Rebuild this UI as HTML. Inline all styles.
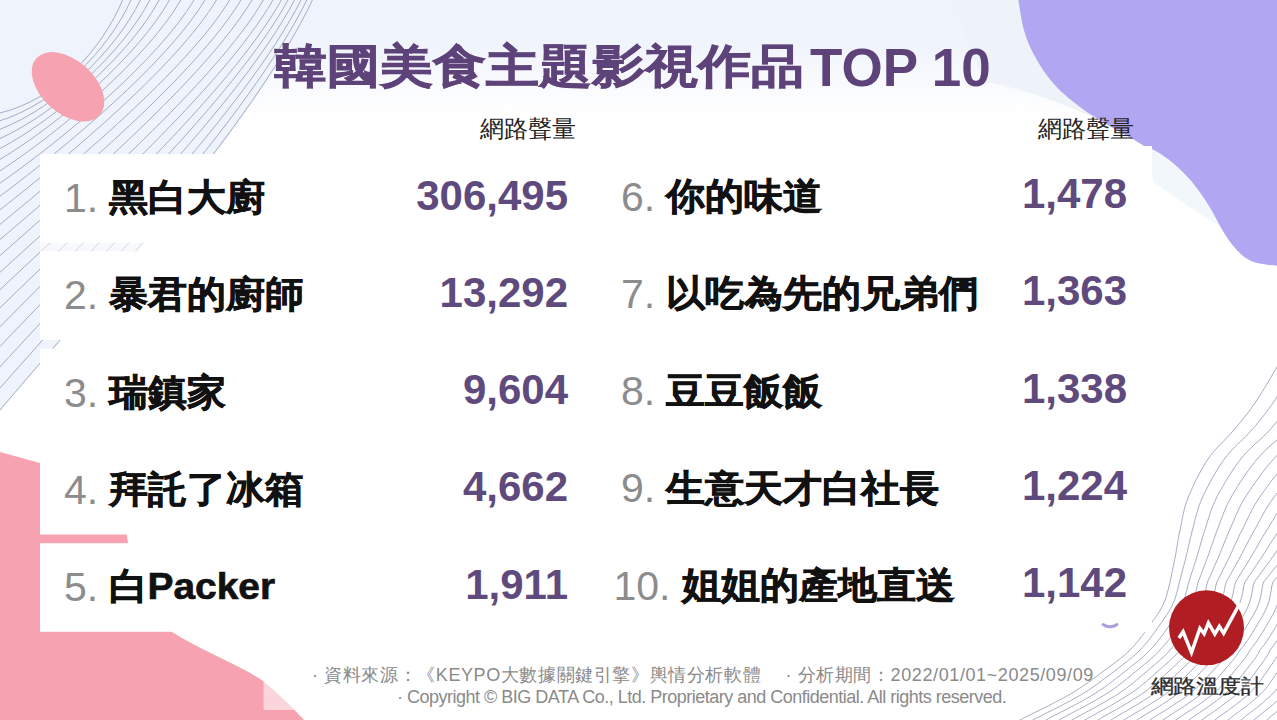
<!DOCTYPE html>
<html lang="zh-Hant-TW"><head><meta charset="utf-8">
<style>
html,body{margin:0;padding:0;}
body{width:1277px;height:720px;overflow:hidden;position:relative;background:#eef2fa;font-family:"Liberation Sans",sans-serif;}
.abs{position:absolute;}
.num,.name,.val{position:absolute;line-height:48px;white-space:nowrap;}
.num{color:#8c8c8c;font-size:41px;}
.name{color:#111;font-weight:bold;font-size:38.9px;transform:scaleY(0.95);transform-origin:0 40px;-webkit-text-stroke:0.7px #111;}
.name span{-webkit-text-stroke:0;}
.val{color:#5f4a7e;font-weight:bold;font-size:42px;}
.hdr{position:absolute;font-size:24px;line-height:30px;color:#222;white-space:nowrap;}
.title{position:absolute;left:274px;top:38px;font-size:53px;line-height:66px;font-weight:bold;color:#5e437a;white-space:nowrap;transform:scaleY(0.87);transform-origin:0 0;-webkit-text-stroke:0.9px #5e437a;}
.tl{position:absolute;left:810px;top:34.5px;font-size:53px;line-height:66px;font-weight:bold;color:#5e437a;white-space:nowrap;}
.title span{-webkit-text-stroke:0;}
.foot{position:absolute;font-size:18px;line-height:22px;color:#8a8a8a;white-space:nowrap;}
</style></head><body>
<svg class="abs" style="left:0;top:0" width="1277" height="720" viewBox="0 0 1277 720">
  <defs><linearGradient id="gtop" x1="0" y1="0" x2="0" y2="1"><stop offset="0" stop-color="#eff3fb"/><stop offset="0.4" stop-color="#f0f4fb"/><stop offset="1" stop-color="#ffffff"/></linearGradient></defs>
  <path d="M0 0H1277V720H0Z" fill="#ffffff"/>
  <rect x="0" y="0" width="1277" height="115" fill="url(#gtop)"/>
  <path d="M0 0 L313 0 C256 125 95 300 0 411 Z" fill="#eff3fb"/>
  <path d="M955 0 H1277 V241 C1230 215 1190 170 1152 146 C1100 118 1040 92 986 82 C970 55 960 25 955 0 Z" fill="#eef3f9"/>
  <path d="M0 113.0C56.4 99.4 101.8 49.7 122.6 0 M0 120.8C56.4 102.9 108.4 50.0 131.0 0 M0 129.3C56.9 107.1 115.8 50.7 140.4 0 M0 138.6C57.5 112.0 123.3 51.7 149.8 0 M0 148.6C58.2 117.6 130.7 53.1 159.2 0 M0 159.4C59.4 123.9 138.9 54.9 169.5 0 M0 170.9C61.2 130.9 148.0 57.0 180.8 0 M0 183.2C63.7 138.6 158.6 59.5 194.0 0 M0 196.2C65.8 147.0 167.5 62.4 205.0 0 M0 209.9C68.1 156.1 176.7 65.7 216.5 0 M0 224.4C71.2 165.9 187.4 69.3 229.7 0 M0 239.6C73.9 176.4 196.6 73.3 241.0 0 M0 255.6C76.6 187.5 205.5 77.6 252.0 0 M0 272.3C79.7 199.4 214.8 82.3 263.5 0 M0 289.7C82.3 211.8 222.5 87.2 273.0 0 M0 307.9C84.6 225.0 229.4 92.5 281.4 0 M0 326.8C86.5 238.7 234.7 98.1 288.0 0 M0 346.5C88.4 253.0 240.0 104.0 294.5 0 M0 366.9C90.3 267.9 245.3 110.1 301.0 0 M0 388.1C92.0 283.3 250.0 116.4 306.8 0 M0 410.0C93.7 299.3 254.6 123.0 312.4 0" fill="none" stroke="#a6abc6" stroke-width="1"/>
  <ellipse cx="68" cy="86.8" rx="42.6" ry="26.6" transform="rotate(42 68 86.8)" fill="#f6a2b1"/>
  <path d="M1017.0 -10.0 1017.1 -9.2 1017.2 -8.2 1017.3 -6.9 1017.6 -5.3 1017.9 -3.0 1018.4 0.0 1019.0 4.0 1019.8 8.9 1020.7 14.4 1021.7 20.2 1022.8 25.8 1024.2 31.0 1025.7 35.8 1027.4 40.4 1029.2 44.9 1031.2 49.3 1033.4 53.8 1035.9 58.3 1038.6 62.9 1041.5 67.5 1044.6 72.2 1048.0 76.8 1051.5 81.3 1055.3 85.6 1059.3 89.8 1063.7 93.8 1068.2 97.7 1072.9 101.6 1077.7 105.3 1082.6 108.9 1087.6 112.4 1092.8 115.8 1098.2 119.1 1103.5 122.3 1108.7 125.4 1113.7 128.4 1118.4 131.2 1123.0 133.7 1127.5 136.2 1131.9 138.6 1136.4 141.2 1140.9 143.9 1145.6 146.9 1150.5 150.1 1155.4 153.4 1160.2 156.7 1164.8 160.0 1169.0 163.0 1172.9 165.8 1176.4 168.3 1179.8 170.8 1183.0 173.3 1186.0 176.0 1189.0 179.0 1191.9 182.3 1194.6 185.9 1197.2 189.6 1199.6 193.4 1202.1 197.3 1204.5 201.0 1206.8 204.7 1209.1 208.3 1211.3 212.0 1213.5 215.6 1215.7 219.3 1218.0 223.0 1220.4 226.8 1222.8 230.8 1225.2 234.7 1227.7 238.6 1230.3 242.2 1233.0 245.6 1235.7 248.7 1238.5 251.7 1241.3 254.4 1244.3 256.9 1247.5 259.1 1251.0 261.0 1255.0 262.5 1259.6 263.5 1264.3 264.3 1269.0 264.9 1273.3 265.3 1277.0 265.7 1280.1 266.0 1282.8 266.1 1285.1 266.1 1287.1 266.1 1288.7 266.0 1290.0 266.0 L1290 -10 Z" fill="#b0a6f1"/>
  <path d="M1150 148 C1175 160 1200 185 1220 226 C1200 215 1180 200 1153 182 Z" fill="#f1f7fa"/>
  <path d="M0 452 L40 463 C90 478 122 505 127 536 L128 543 L172 632 C200 650 240 665 263 681 C280 695 295 710 304 720 L0 720Z" fill="#f6a2b1"/>
  <rect x="263.5" y="681" width="50" height="29" fill="#fff" fill-opacity="0.55"/>
  <path d="M1290.0 345.0 1289.3 346.2 1288.4 347.8 1287.3 349.5 1286.2 351.5 1284.9 353.8 1283.5 356.1 1282.0 358.7 1280.4 361.4 1278.7 364.1 1277.0 367.0 1275.2 370.1 1273.2 373.4 1271.1 377.0 1268.8 380.8 1266.6 384.6 1264.2 388.5 1261.9 392.3 1259.5 396.1 1257.2 399.7 1255.0 403.0 1252.8 406.1 1250.6 409.1 1248.5 412.0 1246.3 414.8 1244.2 417.5 1242.0 420.2 1239.8 422.9 1237.6 425.5 1235.3 428.2 1233.0 431.0 1230.6 433.8 1228.1 436.4 1225.6 439.1 1223.0 441.7 1220.4 444.3 1217.8 447.0 1215.2 449.8 1212.7 452.7 1210.3 455.8 1208.0 459.0 1205.7 462.5 1203.5 466.2 1201.3 470.1 1199.1 474.1 1196.9 478.2 1194.9 482.4 1193.0 486.5 1191.2 490.5 1189.5 494.3 1188.0 498.0 1186.7 501.5 1185.6 504.8 1184.7 508.1 1183.8 511.3 1183.1 514.4 1182.5 517.5 1181.9 520.5 1181.3 523.6 1180.7 526.8 1180.0 530.0 1179.3 533.2 1178.7 536.5 1178.1 539.7 1177.6 542.9 1177.1 546.2 1176.5 549.5 1176.0 552.8 1175.4 556.1 1174.7 559.5 1174.0 563.0 1173.2 566.6 1172.5 570.3 1171.7 574.2 1170.9 578.1 1170.1 582.0 1169.2 585.9 1168.2 589.7 1167.2 593.3 1166.2 596.8 1165.0 600.0 1163.8 603.0 1162.5 605.8 1161.1 608.4 1159.7 610.9 1158.2 613.2 1156.6 615.6 1155.1 617.9 1153.4 620.2 1151.7 622.6 1150.0 625.0 1148.2 627.5 1146.4 630.1 1144.5 632.7 1142.6 635.2 1140.6 637.8 1138.6 640.4 1136.5 642.9 1134.4 645.3 1132.2 647.7 1130.0 650.0 1127.7 652.2 1125.4 654.3 1123.0 656.4 1120.5 658.4 1118.0 660.3 1115.5 662.2 1112.9 664.2 1110.3 666.1 1107.6 668.0 1105.0 670.0 1102.3 672.0 1099.6 674.1 1096.8 676.2 1094.0 678.2 1091.1 680.3 1088.3 682.4 1085.4 684.4 1082.6 686.3 1079.8 688.2 1077.0 690.0 1074.3 691.7 1071.6 693.3 1068.9 694.9 1066.3 696.4 1063.6 697.8 1061.0 699.2 1058.3 700.7 1055.6 702.1 1052.8 703.5 1050.0 705.0 1047.1 706.5 1044.1 708.0 1041.1 709.5 1038.0 711.0 1034.9 712.5 1031.8 714.0 1028.7 715.5 1025.7 717.0 1022.8 718.5 1020.0 720.0 1017.2 721.6 1014.3 723.2 1011.3 725.0 1008.4 726.7 1005.6 728.4 1003.0 730.1 1000.5 731.6 998.3 733.0 996.5 734.1 995.0 735.0 M1308.0 345.0 1307.3 346.2 1306.4 347.8 1305.3 349.5 1304.2 351.5 1302.9 353.8 1301.5 356.1 1300.0 358.7 1298.4 361.4 1296.7 364.1 1295.0 367.0 1293.2 370.1 1291.2 373.4 1289.1 377.0 1286.8 380.8 1284.6 384.6 1282.2 388.5 1279.9 392.3 1277.5 396.1 1275.2 399.7 1273.0 403.0 1270.8 406.1 1268.6 409.1 1266.5 412.0 1264.3 414.8 1262.2 417.5 1260.0 420.2 1257.8 422.9 1255.6 425.5 1253.3 428.2 1250.9 431.0 1248.4 433.8 1245.8 436.4 1243.1 439.1 1240.3 441.7 1237.6 444.3 1234.8 447.0 1232.1 449.8 1229.5 452.7 1226.9 455.8 1224.4 459.0 1221.9 462.5 1219.5 466.2 1217.0 470.1 1214.6 474.1 1212.3 478.2 1210.0 482.4 1207.8 486.5 1205.8 490.5 1203.9 494.3 1202.2 498.0 1200.7 501.5 1199.4 504.8 1198.3 508.1 1197.3 511.3 1196.4 514.4 1195.6 517.5 1194.8 520.5 1194.1 523.6 1193.3 526.8 1192.4 530.0 1191.6 533.2 1190.8 536.5 1190.0 539.7 1189.3 542.9 1188.5 546.2 1187.8 549.5 1187.0 552.8 1186.2 556.1 1185.4 559.5 1184.5 563.0 1183.5 566.6 1182.5 570.3 1181.5 574.2 1180.5 578.1 1179.4 582.0 1178.5 585.9 1177.6 589.7 1176.6 593.3 1175.6 596.8 1174.5 600.0 1173.3 603.0 1172.0 605.8 1170.7 608.4 1169.3 610.9 1167.8 613.2 1166.3 615.6 1164.7 617.9 1163.1 620.2 1161.4 622.6 1159.7 625.0 1158.0 627.5 1156.2 630.1 1154.3 632.7 1152.4 635.2 1150.5 637.8 1148.5 640.4 1146.5 642.9 1144.4 645.3 1142.2 647.7 1140.0 650.0 1137.8 652.2 1135.6 654.3 1133.2 656.4 1130.9 658.4 1128.4 660.3 1126.0 662.2 1123.5 664.2 1121.0 666.1 1118.4 668.0 1115.9 670.0 1113.3 672.0 1110.6 674.1 1107.9 676.2 1105.2 678.2 1102.4 680.3 1099.7 682.4 1096.9 684.4 1094.1 686.3 1091.4 688.2 1088.7 690.0 1086.1 691.7 1083.4 693.3 1080.8 694.9 1078.3 696.4 1075.7 697.8 1073.1 699.2 1070.5 700.7 1067.8 702.1 1065.1 703.5 1062.4 705.0 1059.5 706.5 1056.6 708.0 1053.6 709.5 1050.6 711.0 1047.6 712.5 1044.5 714.0 1041.5 715.5 1038.6 717.0 1035.7 718.5 1033.0 720.0 1030.2 721.6 1027.3 723.2 1024.4 725.0 1021.5 726.7 1018.7 728.4 1016.1 730.1 1013.7 731.6 1011.5 733.0 1009.6 734.1 1008.2 735.0 M1326.0 345.0 1325.3 346.2 1324.4 347.8 1323.3 349.5 1322.2 351.5 1320.9 353.8 1319.5 356.1 1318.0 358.7 1316.4 361.4 1314.7 364.1 1313.0 367.0 1311.2 370.1 1309.2 373.4 1307.1 377.0 1304.8 380.8 1302.6 384.6 1300.2 388.5 1297.9 392.3 1295.5 396.1 1293.2 399.7 1291.0 403.0 1288.8 406.1 1286.6 409.1 1284.5 412.0 1282.3 414.8 1280.2 417.5 1278.0 420.2 1275.8 422.9 1273.6 425.5 1271.3 428.2 1268.9 431.0 1266.2 433.8 1263.4 436.4 1260.6 439.1 1257.7 441.7 1254.8 444.3 1251.9 447.0 1249.0 449.8 1246.2 452.7 1243.4 455.8 1240.8 459.0 1238.1 462.5 1235.5 466.2 1232.8 470.1 1230.2 474.1 1227.6 478.2 1225.1 482.4 1222.7 486.5 1220.4 490.5 1218.3 494.3 1216.4 498.0 1214.8 501.5 1213.3 504.8 1212.0 508.1 1210.8 511.3 1209.8 514.4 1208.8 517.5 1207.8 520.5 1206.9 523.6 1205.9 526.8 1204.8 530.0 1203.8 533.2 1202.8 536.5 1201.8 539.7 1200.9 542.9 1200.0 546.2 1199.1 549.5 1198.1 552.8 1197.1 556.1 1196.1 559.5 1194.9 563.0 1193.8 566.6 1192.6 570.3 1191.3 574.2 1190.1 578.1 1188.8 582.0 1187.8 585.9 1187.0 589.7 1186.0 593.3 1185.0 596.8 1184.0 600.0 1182.8 603.0 1181.5 605.8 1180.2 608.4 1178.9 610.9 1177.4 613.2 1175.9 615.6 1174.4 617.9 1172.8 620.2 1171.2 622.6 1169.5 625.0 1167.8 627.5 1166.0 630.1 1164.2 632.7 1162.3 635.2 1160.4 637.8 1158.4 640.4 1156.4 642.9 1154.3 645.3 1152.2 647.7 1150.0 650.0 1147.9 652.2 1145.7 654.3 1143.5 656.4 1141.2 658.4 1138.9 660.3 1136.5 662.2 1134.1 664.2 1131.7 666.1 1129.2 668.0 1126.7 670.0 1124.2 672.0 1121.6 674.1 1119.0 676.2 1116.4 678.2 1113.7 680.3 1111.0 682.4 1108.4 684.4 1105.7 686.3 1103.0 688.2 1100.4 690.0 1097.8 691.7 1095.3 693.3 1092.8 694.9 1090.2 696.4 1087.7 697.8 1085.2 699.2 1082.6 700.7 1080.0 702.1 1077.4 703.5 1074.7 705.0 1071.9 706.5 1069.1 708.0 1066.2 709.5 1063.2 711.0 1060.2 712.5 1057.3 714.0 1054.3 715.5 1051.5 717.0 1048.7 718.5 1046.0 720.0 1043.2 721.6 1040.4 723.2 1037.5 725.0 1034.6 726.7 1031.8 728.4 1029.2 730.1 1026.8 731.6 1024.6 733.0 1022.8 734.1 1021.4 735.0 M1344.0 345.0 1343.3 346.2 1342.4 347.8 1341.3 349.5 1340.2 351.5 1338.9 353.8 1337.5 356.1 1336.0 358.7 1334.4 361.4 1332.7 364.1 1331.0 367.0 1329.2 370.1 1327.2 373.4 1325.1 377.0 1322.8 380.8 1320.6 384.6 1318.2 388.5 1315.9 392.3 1313.5 396.1 1311.2 399.7 1309.0 403.0 1306.8 406.1 1304.6 409.1 1302.5 412.0 1300.3 414.8 1298.2 417.5 1296.0 420.2 1293.8 422.9 1291.6 425.5 1289.3 428.2 1286.8 431.0 1284.0 433.8 1281.0 436.4 1278.1 439.1 1275.0 441.7 1272.0 444.3 1268.9 447.0 1265.9 449.8 1262.9 452.7 1260.0 455.8 1257.2 459.0 1254.3 462.5 1251.5 466.2 1248.6 470.1 1245.7 474.1 1242.9 478.2 1240.2 482.4 1237.5 486.5 1235.1 490.5 1232.8 494.3 1230.7 498.0 1228.8 501.5 1227.1 504.8 1225.6 508.1 1224.3 511.3 1223.1 514.4 1221.9 517.5 1220.8 520.5 1219.6 523.6 1218.5 526.8 1217.2 530.0 1216.0 533.2 1214.8 536.5 1213.7 539.7 1212.6 542.9 1211.4 546.2 1210.3 549.5 1209.2 552.8 1208.0 556.1 1206.7 559.5 1205.4 563.0 1204.0 566.6 1202.6 570.3 1201.2 574.2 1199.7 578.1 1198.1 582.0 1197.2 585.9 1196.3 589.7 1195.5 593.3 1194.5 596.8 1193.4 600.0 1192.3 603.0 1191.1 605.8 1189.8 608.4 1188.4 610.9 1187.0 613.2 1185.6 615.6 1184.0 617.9 1182.5 620.2 1180.9 622.6 1179.2 625.0 1177.5 627.5 1175.8 630.1 1174.0 632.7 1172.1 635.2 1170.2 637.8 1168.3 640.4 1166.3 642.9 1164.3 645.3 1162.2 647.7 1160.0 650.0 1158.0 652.2 1155.9 654.3 1153.8 656.4 1151.6 658.4 1149.3 660.3 1147.0 662.2 1144.7 664.2 1142.3 666.1 1140.0 668.0 1137.6 670.0 1135.1 672.0 1132.7 674.1 1130.2 676.2 1127.6 678.2 1125.0 680.3 1122.4 682.4 1119.8 684.4 1117.3 686.3 1114.7 688.2 1112.1 690.0 1109.6 691.7 1107.2 693.3 1104.7 694.9 1102.2 696.4 1099.8 697.8 1097.3 699.2 1094.8 700.7 1092.3 702.1 1089.7 703.5 1087.1 705.0 1084.4 706.5 1081.6 708.0 1078.7 709.5 1075.8 711.0 1072.9 712.5 1070.0 714.0 1067.1 715.5 1064.3 717.0 1061.6 718.5 1059.0 720.0 1056.2 721.6 1053.4 723.2 1050.5 725.0 1047.7 726.7 1044.9 728.4 1042.3 730.1 1039.9 731.6 1037.8 733.0 1036.0 734.1 1034.6 735.0 M1362.0 345.0 1361.3 346.2 1360.4 347.8 1359.3 349.5 1358.2 351.5 1356.9 353.8 1355.5 356.1 1354.0 358.7 1352.4 361.4 1350.7 364.1 1349.0 367.0 1347.2 370.1 1345.2 373.4 1343.1 377.0 1340.8 380.8 1338.6 384.6 1336.2 388.5 1333.9 392.3 1331.5 396.1 1329.2 399.7 1327.0 403.0 1324.8 406.1 1322.6 409.1 1320.5 412.0 1318.3 414.8 1316.2 417.5 1314.0 420.2 1311.8 422.9 1309.6 425.5 1307.3 428.2 1304.8 431.0 1301.8 433.8 1298.7 436.4 1295.6 439.1 1292.4 441.7 1289.2 444.3 1286.0 447.0 1282.8 449.8 1279.7 452.7 1276.6 455.8 1273.6 459.0 1270.5 462.5 1267.4 466.2 1264.3 470.1 1261.3 474.1 1258.2 478.2 1255.3 482.4 1252.4 486.5 1249.7 490.5 1247.2 494.3 1244.9 498.0 1242.8 501.5 1241.0 504.8 1239.3 508.1 1237.8 511.3 1236.4 514.4 1235.0 517.5 1233.7 520.5 1232.4 523.6 1231.1 526.8 1229.7 530.0 1228.2 533.2 1226.9 536.5 1225.5 539.7 1224.2 542.9 1222.9 546.2 1221.6 549.5 1220.3 552.8 1218.9 556.1 1217.4 559.5 1215.9 563.0 1214.3 566.6 1212.7 570.3 1211.0 574.2 1209.3 578.1 1207.5 582.0 1206.5 585.9 1205.7 589.7 1204.9 593.3 1203.9 596.8 1202.9 600.0 1201.8 603.0 1200.6 605.8 1199.4 608.4 1198.0 610.9 1196.7 613.2 1195.2 615.6 1193.7 617.9 1192.2 620.2 1190.6 622.6 1189.0 625.0 1187.3 627.5 1185.6 630.1 1183.8 632.7 1182.0 635.2 1180.1 637.8 1178.2 640.4 1176.2 642.9 1174.2 645.3 1172.1 647.7 1170.0 650.0 1168.1 652.2 1166.1 654.3 1164.1 656.4 1161.9 658.4 1159.8 660.3 1157.6 662.2 1155.3 664.2 1153.0 666.1 1150.7 668.0 1148.4 670.0 1146.1 672.0 1143.7 674.1 1141.3 676.2 1138.8 678.2 1136.3 680.3 1133.8 682.4 1131.3 684.4 1128.8 686.3 1126.3 688.2 1123.9 690.0 1121.4 691.7 1119.0 693.3 1116.6 694.9 1114.2 696.4 1111.8 697.8 1109.4 699.2 1107.0 700.7 1104.5 702.1 1102.0 703.5 1099.4 705.0 1096.8 706.5 1094.1 708.0 1091.3 709.5 1088.4 711.0 1085.6 712.5 1082.8 714.0 1080.0 715.5 1077.2 717.0 1074.6 718.5 1072.0 720.0 1069.3 721.6 1066.4 723.2 1063.6 725.0 1060.8 726.7 1058.0 728.4 1055.5 730.1 1053.1 731.6 1051.0 733.0 1049.2 734.1 1047.8 735.0 M1380.0 345.0 1379.3 346.2 1378.4 347.8 1377.3 349.5 1376.2 351.5 1374.9 353.8 1373.5 356.1 1372.0 358.7 1370.4 361.4 1368.7 364.1 1367.0 367.0 1365.2 370.1 1363.2 373.4 1361.1 377.0 1358.8 380.8 1356.6 384.6 1354.2 388.5 1351.9 392.3 1349.5 396.1 1347.2 399.7 1345.0 403.0 1342.8 406.1 1340.6 409.1 1338.5 412.0 1336.3 414.8 1334.2 417.5 1332.0 420.2 1329.8 422.9 1327.6 425.5 1325.3 428.2 1322.7 431.0 1319.6 433.8 1316.3 436.4 1313.0 439.1 1309.7 441.7 1306.4 444.3 1303.1 447.0 1299.7 449.8 1296.4 452.7 1293.2 455.8 1289.9 459.0 1286.7 462.5 1283.4 466.2 1280.1 470.1 1276.8 474.1 1273.5 478.2 1270.3 482.4 1267.3 486.5 1264.4 490.5 1261.6 494.3 1259.1 498.0 1256.8 501.5 1254.8 504.8 1253.0 508.1 1251.3 511.3 1249.7 514.4 1248.2 517.5 1246.7 520.5 1245.2 523.6 1243.7 526.8 1242.1 530.0 1240.4 533.2 1238.9 536.5 1237.4 539.7 1235.9 542.9 1234.4 546.2 1232.9 549.5 1231.3 552.8 1229.8 556.1 1228.1 559.5 1226.4 563.0 1224.6 566.6 1222.7 570.3 1220.8 574.2 1218.8 578.1 1216.9 582.0 1215.8 585.9 1215.1 589.7 1214.3 593.3 1213.4 596.8 1212.4 600.0 1211.3 603.0 1210.2 605.8 1208.9 608.4 1207.6 610.9 1206.3 613.2 1204.8 615.6 1203.4 617.9 1201.9 620.2 1200.3 622.6 1198.7 625.0 1197.1 627.5 1195.4 630.1 1193.6 632.7 1191.8 635.2 1190.0 637.8 1188.1 640.4 1186.2 642.9 1184.2 645.3 1182.1 647.7 1180.0 650.0 1178.2 652.2 1176.3 654.3 1174.3 656.4 1172.3 658.4 1170.2 660.3 1168.1 662.2 1165.9 664.2 1163.7 666.1 1161.5 668.0 1159.3 670.0 1157.0 672.0 1154.7 674.1 1152.4 676.2 1150.0 678.2 1147.6 680.3 1145.2 682.4 1142.8 684.4 1140.4 686.3 1138.0 688.2 1135.6 690.0 1133.2 691.7 1130.9 693.3 1128.5 694.9 1126.2 696.4 1123.9 697.8 1121.5 699.2 1119.1 700.7 1116.7 702.1 1114.3 703.5 1111.8 705.0 1109.2 706.5 1106.5 708.0 1103.8 709.5 1101.0 711.0 1098.3 712.5 1095.5 714.0 1092.8 715.5 1090.1 717.0 1087.5 718.5 1085.0 720.0 1082.3 721.6 1079.5 723.2 1076.7 725.0 1073.9 726.7 1071.2 728.4 1068.6 730.1 1066.2 731.6 1064.1 733.0 1062.3 734.1 1060.9 735.0 M1398.0 345.0 1397.3 346.2 1396.4 347.8 1395.3 349.5 1394.2 351.5 1392.9 353.8 1391.5 356.1 1390.0 358.7 1388.4 361.4 1386.7 364.1 1385.0 367.0 1383.2 370.1 1381.2 373.4 1379.1 377.0 1376.8 380.8 1374.6 384.6 1372.2 388.5 1369.9 392.3 1367.5 396.1 1365.2 399.7 1363.0 403.0 1360.8 406.1 1358.6 409.1 1356.5 412.0 1354.3 414.8 1352.2 417.5 1350.0 420.2 1347.8 422.9 1345.6 425.5 1343.3 428.2 1340.7 431.0 1337.3 433.8 1334.0 436.4 1330.5 439.1 1327.1 441.7 1323.6 444.3 1320.1 447.0 1316.6 449.8 1313.2 452.7 1309.7 455.8 1306.3 459.0 1302.9 462.5 1299.4 466.2 1295.9 470.1 1292.3 474.1 1288.9 478.2 1285.4 482.4 1282.1 486.5 1279.0 490.5 1276.0 494.3 1273.3 498.0 1270.9 501.5 1268.7 504.8 1266.6 508.1 1264.8 511.3 1263.0 514.4 1261.3 517.5 1259.7 520.5 1258.0 523.6 1256.3 526.8 1254.5 530.0 1252.7 533.2 1250.9 536.5 1249.2 539.7 1247.5 542.9 1245.8 546.2 1244.1 549.5 1242.4 552.8 1240.6 556.1 1238.8 559.5 1236.8 563.0 1234.8 566.6 1232.8 570.3 1230.6 574.2 1228.4 578.1 1226.2 582.0 1225.2 585.9 1224.5 589.7 1223.7 593.3 1222.8 596.8 1221.9 600.0 1220.8 603.0 1219.7 605.8 1218.5 608.4 1217.2 610.9 1215.9 613.2 1214.5 615.6 1213.0 617.9 1211.5 620.2 1210.0 622.6 1208.4 625.0 1206.8 627.5 1205.2 630.1 1203.4 632.7 1201.7 635.2 1199.9 637.8 1198.0 640.4 1196.1 642.9 1194.1 645.3 1192.1 647.7 1190.0 650.0 1188.3 652.2 1186.5 654.3 1184.6 656.4 1182.7 658.4 1180.7 660.3 1178.6 662.2 1176.5 664.2 1174.4 666.1 1172.3 668.0 1170.1 670.0 1168.0 672.0 1165.8 674.1 1163.5 676.2 1161.2 678.2 1158.9 680.3 1156.6 682.4 1154.3 684.4 1151.9 686.3 1149.6 688.2 1147.3 690.0 1145.0 691.7 1142.7 693.3 1140.5 694.9 1138.2 696.4 1135.9 697.8 1133.6 699.2 1131.3 700.7 1129.0 702.1 1126.6 703.5 1124.1 705.0 1121.6 706.5 1119.0 708.0 1116.4 709.5 1113.7 711.0 1110.9 712.5 1108.2 714.0 1105.6 715.5 1103.0 717.0 1100.4 718.5 1098.0 720.0 1095.3 721.6 1092.5 723.2 1089.7 725.0 1086.9 726.7 1084.3 728.4 1081.7 730.1 1079.4 731.6 1077.3 733.0 1075.5 734.1 1074.1 735.0 M1416.0 345.0 1415.3 346.2 1414.4 347.8 1413.3 349.5 1412.2 351.5 1410.9 353.8 1409.5 356.1 1408.0 358.7 1406.4 361.4 1404.7 364.1 1403.0 367.0 1401.2 370.1 1399.2 373.4 1397.1 377.0 1394.8 380.8 1392.6 384.6 1390.2 388.5 1387.9 392.3 1385.5 396.1 1383.2 399.7 1381.0 403.0 1378.8 406.1 1376.6 409.1 1374.5 412.0 1372.3 414.8 1370.2 417.5 1368.0 420.2 1365.8 422.9 1363.6 425.5 1361.3 428.2 1358.6 431.0 1355.1 433.8 1351.6 436.4 1348.0 439.1 1344.4 441.7 1340.8 444.3 1337.2 447.0 1333.5 449.8 1329.9 452.7 1326.3 455.8 1322.7 459.0 1319.1 462.5 1315.4 466.2 1311.7 470.1 1307.9 474.1 1304.2 478.2 1300.5 482.4 1297.0 486.5 1293.6 490.5 1290.5 494.3 1287.6 498.0 1284.9 501.5 1282.5 504.8 1280.3 508.1 1278.2 511.3 1276.3 514.4 1274.5 517.5 1272.7 520.5 1270.8 523.6 1268.9 526.8 1266.9 530.0 1264.9 533.2 1262.9 536.5 1261.0 539.7 1259.2 542.9 1257.3 546.2 1255.4 549.5 1253.5 552.8 1251.5 556.1 1249.5 559.5 1247.3 563.0 1245.1 566.6 1242.8 570.3 1240.4 574.2 1238.0 578.1 1235.6 582.0 1234.5 585.9 1233.8 589.7 1233.1 593.3 1232.3 596.8 1231.3 600.0 1230.3 603.0 1229.2 605.8 1228.1 608.4 1226.8 610.9 1225.5 613.2 1224.1 615.6 1222.7 617.9 1221.2 620.2 1219.7 622.6 1218.2 625.0 1216.6 627.5 1214.9 630.1 1213.3 632.7 1211.5 635.2 1209.7 637.8 1207.9 640.4 1206.0 642.9 1204.1 645.3 1202.1 647.7 1200.0 650.0 1198.4 652.2 1196.7 654.3 1194.9 656.4 1193.0 658.4 1191.1 660.3 1189.1 662.2 1187.1 664.2 1185.1 666.1 1183.1 668.0 1181.0 670.0 1178.9 672.0 1176.8 674.1 1174.6 676.2 1172.4 678.2 1170.2 680.3 1168.0 682.4 1165.7 684.4 1163.5 686.3 1161.2 688.2 1159.0 690.0 1156.8 691.7 1154.6 693.3 1152.4 694.9 1150.2 696.4 1148.0 697.8 1145.7 699.2 1143.5 700.7 1141.2 702.1 1138.9 703.5 1136.5 705.0 1134.0 706.5 1131.5 708.0 1128.9 709.5 1126.3 711.0 1123.6 712.5 1121.0 714.0 1118.4 715.5 1115.8 717.0 1113.4 718.5 1111.0 720.0 1108.3 721.6 1105.6 723.2 1102.8 725.0 1100.0 726.7 1097.4 728.4 1094.8 730.1 1092.5 731.6 1090.5 733.0 1088.7 734.1 1087.3 735.0 M1434.0 345.0 1433.3 346.2 1432.4 347.8 1431.3 349.5 1430.2 351.5 1428.9 353.8 1427.5 356.1 1426.0 358.7 1424.4 361.4 1422.7 364.1 1421.0 367.0 1419.2 370.1 1417.2 373.4 1415.1 377.0 1412.8 380.8 1410.6 384.6 1408.2 388.5 1405.9 392.3 1403.5 396.1 1401.2 399.7 1399.0 403.0 1396.8 406.1 1394.6 409.1 1392.5 412.0 1390.3 414.8 1388.2 417.5 1386.0 420.2 1383.8 422.9 1381.6 425.5 1379.3 428.2 1376.6 431.0 1372.9 433.8 1369.3 436.4 1365.5 439.1 1361.8 441.7 1358.0 444.3 1354.2 447.0 1350.4 449.8 1346.6 452.7 1342.9 455.8 1339.1 459.0 1335.3 462.5 1331.4 466.2 1327.4 470.1 1323.4 474.1 1319.5 478.2 1315.6 482.4 1311.9 486.5 1308.3 490.5 1304.9 494.3 1301.8 498.0 1298.9 501.5 1296.3 504.8 1294.0 508.1 1291.7 511.3 1289.6 514.4 1287.6 517.5 1285.6 520.5 1283.6 523.6 1281.5 526.8 1279.3 530.0 1277.1 533.2 1275.0 536.5 1272.9 539.7 1270.8 542.9 1268.8 546.2 1266.7 549.5 1264.6 552.8 1262.4 556.1 1260.1 559.5 1257.8 563.0 1255.4 566.6 1252.8 570.3 1250.3 574.2 1247.6 578.1 1244.9 582.0 1243.8 585.9 1243.2 589.7 1242.5 593.3 1241.7 596.8 1240.8 600.0 1239.8 603.0 1238.8 605.8 1237.6 608.4 1236.4 610.9 1235.1 613.2 1233.8 615.6 1232.4 617.9 1230.9 620.2 1229.4 622.6 1227.9 625.0 1226.3 627.5 1224.7 630.1 1223.1 632.7 1221.4 635.2 1219.6 637.8 1217.8 640.4 1215.9 642.9 1214.0 645.3 1212.0 647.7 1210.0 650.0 1208.5 652.2 1206.8 654.3 1205.1 656.4 1203.4 658.4 1201.5 660.3 1199.7 662.2 1197.7 664.2 1195.8 666.1 1193.8 668.0 1191.9 670.0 1189.9 672.0 1187.8 674.1 1185.8 676.2 1183.7 678.2 1181.5 680.3 1179.4 682.4 1177.2 684.4 1175.0 686.3 1172.9 688.2 1170.7 690.0 1168.6 691.7 1166.4 693.3 1164.3 694.9 1162.2 696.4 1160.0 697.8 1157.9 699.2 1155.7 700.7 1153.4 702.1 1151.2 703.5 1148.9 705.0 1146.5 706.5 1144.0 708.0 1141.5 709.5 1138.9 711.0 1136.3 712.5 1133.7 714.0 1131.2 715.5 1128.7 717.0 1126.3 718.5 1124.0 720.0 1121.3 721.6 1118.6 723.2 1115.8 725.0 1113.1 726.7 1110.5 728.4 1108.0 730.1 1105.7 731.6 1103.6 733.0 1101.9 734.1 1100.5 735.0 M1452.0 345.0 1451.3 346.2 1450.4 347.8 1449.3 349.5 1448.2 351.5 1446.9 353.8 1445.5 356.1 1444.0 358.7 1442.4 361.4 1440.7 364.1 1439.0 367.0 1437.2 370.1 1435.2 373.4 1433.1 377.0 1430.8 380.8 1428.6 384.6 1426.2 388.5 1423.9 392.3 1421.5 396.1 1419.2 399.7 1417.0 403.0 1414.8 406.1 1412.6 409.1 1410.5 412.0 1408.3 414.8 1406.2 417.5 1404.0 420.2 1401.8 422.9 1399.6 425.5 1397.3 428.2 1394.5 431.0 1390.7 433.8 1386.9 436.4 1383.0 439.1 1379.1 441.7 1375.2 444.3 1371.3 447.0 1367.3 449.8 1363.4 452.7 1359.4 455.8 1355.5 459.0 1351.5 462.5 1347.4 466.2 1343.2 470.1 1339.0 474.1 1334.8 478.2 1330.7 482.4 1326.7 486.5 1322.9 490.5 1319.3 494.3 1316.0 498.0 1313.0 501.5 1310.2 504.8 1307.6 508.1 1305.2 511.3 1302.9 514.4 1300.7 517.5 1298.6 520.5 1296.4 523.6 1294.1 526.8 1291.7 530.0 1289.3 533.2 1287.0 536.5 1284.7 539.7 1282.5 542.9 1280.2 546.2 1277.9 549.5 1275.6 552.8 1273.3 556.1 1270.8 559.5 1268.3 563.0 1265.6 566.6 1262.9 570.3 1260.1 574.2 1257.2 578.1 1254.3 582.0 1253.1 585.9 1252.6 589.7 1251.9 593.3 1251.2 596.8 1250.3 600.0 1249.3 603.0 1248.3 605.8 1247.2 608.4 1246.0 610.9 1244.7 613.2 1243.4 615.6 1242.0 617.9 1240.6 620.2 1239.1 622.6 1237.6 625.0 1236.1 627.5 1234.5 630.1 1232.9 632.7 1231.2 635.2 1229.5 637.8 1227.7 640.4 1225.9 642.9 1224.0 645.3 1222.0 647.7 1220.0 650.0 1218.6 652.2 1217.0 654.3 1215.4 656.4 1213.7 658.4 1212.0 660.3 1210.2 662.2 1208.3 664.2 1206.5 666.1 1204.6 668.0 1202.7 670.0 1200.8 672.0 1198.9 674.1 1196.9 676.2 1194.9 678.2 1192.8 680.3 1190.8 682.4 1188.7 684.4 1186.6 686.3 1184.5 688.2 1182.4 690.0 1180.4 691.7 1178.3 693.3 1176.2 694.9 1174.2 696.4 1172.1 697.8 1170.0 699.2 1167.8 700.7 1165.7 702.1 1163.5 703.5 1161.2 705.0 1158.9 706.5 1156.5 708.0 1154.0 709.5 1151.5 711.0 1149.0 712.5 1146.5 714.0 1144.0 715.5 1141.6 717.0 1139.2 718.5 1137.0 720.0 1134.4 721.6 1131.6 723.2 1128.9 725.0 1126.2 726.7 1123.6 728.4 1121.1 730.1 1118.8 731.6 1116.8 733.0 1115.1 734.1 1113.7 735.0 M1470.0 345.0 1469.3 346.2 1468.4 347.8 1467.3 349.5 1466.2 351.5 1464.9 353.8 1463.5 356.1 1462.0 358.7 1460.4 361.4 1458.7 364.1 1457.0 367.0 1455.2 370.1 1453.2 373.4 1451.1 377.0 1448.8 380.8 1446.6 384.6 1444.2 388.5 1441.9 392.3 1439.5 396.1 1437.2 399.7 1435.0 403.0 1432.8 406.1 1430.6 409.1 1428.5 412.0 1426.3 414.8 1424.2 417.5 1422.0 420.2 1419.8 422.9 1417.6 425.5 1415.3 428.2 1412.4 431.0 1408.5 433.8 1404.5 436.4 1400.5 439.1 1396.5 441.7 1392.4 444.3 1388.3 447.0 1384.2 449.8 1380.1 452.7 1376.0 455.8 1371.9 459.0 1367.7 462.5 1363.4 466.2 1359.0 470.1 1354.5 474.1 1350.1 478.2 1345.8 482.4 1341.6 486.5 1337.6 490.5 1333.8 494.3 1330.2 498.0 1327.0 501.5 1324.0 504.8 1321.3 508.1 1318.7 511.3 1316.2 514.4 1313.9 517.5 1311.6 520.5 1309.1 523.6 1306.7 526.8 1304.1 530.0 1301.6 533.2 1299.0 536.5 1296.6 539.7 1294.1 542.9 1291.7 546.2 1289.2 549.5 1286.7 552.8 1284.1 556.1 1281.5 559.5 1278.7 563.0 1275.9 566.6 1272.9 570.3 1269.9 574.2 1266.8 578.1 1263.6 582.0 1262.5 585.9 1261.9 589.7 1261.3 593.3 1260.6 596.8 1259.8 600.0 1258.9 603.0 1257.8 605.8 1256.8 608.4 1255.6 610.9 1254.3 613.2 1253.1 615.6 1251.7 617.9 1250.3 620.2 1248.9 622.6 1247.4 625.0 1245.9 627.5 1244.3 630.1 1242.7 632.7 1241.1 635.2 1239.4 637.8 1237.6 640.4 1235.8 642.9 1233.9 645.3 1232.0 647.7 1230.0 650.0 1228.7 652.2 1227.2 654.3 1225.7 656.4 1224.1 658.4 1222.4 660.3 1220.7 662.2 1218.9 664.2 1217.2 666.1 1215.4 668.0 1213.6 670.0 1211.8 672.0 1209.9 674.1 1208.0 676.2 1206.1 678.2 1204.1 680.3 1202.1 682.4 1200.1 684.4 1198.1 686.3 1196.1 688.2 1194.1 690.0 1192.1 691.7 1190.1 693.3 1188.1 694.9 1186.1 696.4 1184.1 697.8 1182.1 699.2 1180.0 700.7 1177.9 702.1 1175.8 703.5 1173.6 705.0 1171.3 706.5 1169.0 708.0 1166.6 709.5 1164.1 711.0 1161.7 712.5 1159.2 714.0 1156.8 715.5 1154.4 717.0 1152.2 718.5 1150.0 720.0 1147.4 721.6 1144.7 723.2 1142.0 725.0 1139.3 726.7 1136.7 728.4 1134.2 730.1 1132.0 731.6 1129.9 733.0 1128.2 734.1 1126.9 735.0 M1488.0 345.0 1487.3 346.2 1486.4 347.8 1485.3 349.5 1484.2 351.5 1482.9 353.8 1481.5 356.1 1480.0 358.7 1478.4 361.4 1476.7 364.1 1475.0 367.0 1473.2 370.1 1471.2 373.4 1469.1 377.0 1466.8 380.8 1464.6 384.6 1462.2 388.5 1459.9 392.3 1457.5 396.1 1455.2 399.7 1453.0 403.0 1450.8 406.1 1448.6 409.1 1446.5 412.0 1444.3 414.8 1442.2 417.5 1440.0 420.2 1437.8 422.9 1435.6 425.5 1433.3 428.2 1430.4 431.0 1426.3 433.8 1422.2 436.4 1418.0 439.1 1413.8 441.7 1409.6 444.3 1405.4 447.0 1401.1 449.8 1396.9 452.7 1392.6 455.8 1388.3 459.0 1383.9 462.5 1379.4 466.2 1374.7 470.1 1370.1 474.1 1365.5 478.2 1360.9 482.4 1356.5 486.5 1352.2 490.5 1348.2 494.3 1344.4 498.0 1341.0 501.5 1337.9 504.8 1334.9 508.1 1332.2 511.3 1329.6 514.4 1327.0 517.5 1324.5 520.5 1321.9 523.6 1319.3 526.8 1316.5 530.0 1313.8 533.2 1311.1 536.5 1308.4 539.7 1305.8 542.9 1303.1 546.2 1300.5 549.5 1297.8 552.8 1295.0 556.1 1292.2 559.5 1289.2 563.0 1286.1 566.6 1283.0 570.3 1279.7 574.2 1276.4 578.1 1273.0 582.0 1271.8 585.9 1271.3 589.7 1270.7 593.3 1270.0 596.8 1269.3 600.0 1268.4 603.0 1267.4 605.8 1266.3 608.4 1265.2 610.9 1264.0 613.2 1262.7 615.6 1261.4 617.9 1260.0 620.2 1258.6 622.6 1257.1 625.0 1255.6 627.5 1254.1 630.1 1252.5 632.7 1250.9 635.2 1249.2 637.8 1247.5 640.4 1245.7 642.9 1243.9 645.3 1242.0 647.7 1240.0 650.0 1238.8 652.2 1237.4 654.3 1236.0 656.4 1234.4 658.4 1232.9 660.3 1231.2 662.2 1229.6 664.2 1227.9 666.1 1226.1 668.0 1224.4 670.0 1222.7 672.0 1220.9 674.1 1219.1 676.2 1217.3 678.2 1215.4 680.3 1213.5 682.4 1211.6 684.4 1209.7 686.3 1207.8 688.2 1205.9 690.0 1203.9 691.7 1202.0 693.3 1200.1 694.9 1198.1 696.4 1196.2 697.8 1194.2 699.2 1192.2 700.7 1190.1 702.1 1188.0 703.5 1185.9 705.0 1183.7 706.5 1181.5 708.0 1179.1 709.5 1176.7 711.0 1174.3 712.5 1172.0 714.0 1169.6 715.5 1167.3 717.0 1165.1 718.5 1163.0 720.0 1160.4 721.6 1157.7 723.2 1155.0 725.0 1152.4 726.7 1149.8 728.4 1147.3 730.1 1145.1 731.6 1143.1 733.0 1141.4 734.1 1140.1 735.0 M1506.0 345.0 1505.3 346.2 1504.4 347.8 1503.3 349.5 1502.2 351.5 1500.9 353.8 1499.5 356.1 1498.0 358.7 1496.4 361.4 1494.7 364.1 1493.0 367.0 1491.2 370.1 1489.2 373.4 1487.1 377.0 1484.8 380.8 1482.6 384.6 1480.2 388.5 1477.9 392.3 1475.5 396.1 1473.2 399.7 1471.0 403.0 1468.8 406.1 1466.6 409.1 1464.5 412.0 1462.3 414.8 1460.2 417.5 1458.0 420.2 1455.8 422.9 1453.6 425.5 1451.3 428.2 1448.3 431.0 1444.1 433.8 1439.8 436.4 1435.5 439.1 1431.2 441.7 1426.8 444.3 1422.4 447.0 1418.0 449.8 1413.6 452.7 1409.1 455.8 1404.7 459.0 1400.1 462.5 1395.3 466.2 1390.5 470.1 1385.6 474.1 1380.8 478.2 1376.0 482.4 1371.3 486.5 1366.8 490.5 1362.6 494.3 1358.7 498.0 1355.1 501.5 1351.7 504.8 1348.6 508.1 1345.7 511.3 1342.9 514.4 1340.2 517.5 1337.5 520.5 1334.7 523.6 1331.9 526.8 1329.0 530.0 1326.0 533.2 1323.1 536.5 1320.3 539.7 1317.4 542.9 1314.6 546.2 1311.8 549.5 1308.9 552.8 1305.9 556.1 1302.9 559.5 1299.7 563.0 1296.4 566.6 1293.0 570.3 1289.5 574.2 1286.0 578.1 1282.4 582.0 1281.1 585.9 1280.7 589.7 1280.1 593.3 1279.5 596.8 1278.7 600.0 1277.9 603.0 1276.9 605.8 1275.9 608.4 1274.8 610.9 1273.6 613.2 1272.3 615.6 1271.0 617.9 1269.7 620.2 1268.3 622.6 1266.9 625.0 1265.4 627.5 1263.9 630.1 1262.4 632.7 1260.7 635.2 1259.1 637.8 1257.4 640.4 1255.6 642.9 1253.8 645.3 1251.9 647.7 1250.0 650.0 1248.8 652.2 1247.6 654.3 1246.2 656.4 1244.8 658.4 1243.3 660.3 1241.8 662.2 1240.2 664.2 1238.5 666.1 1236.9 668.0 1235.3 670.0 1233.6 672.0 1232.0 674.1 1230.2 676.2 1228.5 678.2 1226.7 680.3 1224.9 682.4 1223.1 684.4 1221.3 686.3 1219.4 688.2 1217.6 690.0 1215.7 691.7 1213.9 693.3 1212.0 694.9 1210.1 696.4 1208.2 697.8 1206.3 699.2 1204.3 700.7 1202.4 702.1 1200.3 703.5 1198.3 705.0 1196.2 706.5 1193.9 708.0 1191.7 709.5 1189.3 711.0 1187.0 712.5 1184.7 714.0 1182.4 715.5 1180.2 717.0 1178.0 718.5 1176.0 720.0 1173.4 721.6 1170.8 723.2 1168.1 725.0 1165.4 726.7 1162.9 728.4 1160.5 730.1 1158.2 731.6 1156.3 733.0 1154.6 734.1 1153.2 735.0 M1524.0 345.0 1523.3 346.2 1522.4 347.8 1521.3 349.5 1520.2 351.5 1518.9 353.8 1517.5 356.1 1516.0 358.7 1514.4 361.4 1512.7 364.1 1511.0 367.0 1509.2 370.1 1507.2 373.4 1505.1 377.0 1502.8 380.8 1500.6 384.6 1498.2 388.5 1495.9 392.3 1493.5 396.1 1491.2 399.7 1489.0 403.0 1486.8 406.1 1484.6 409.1 1482.5 412.0 1480.3 414.8 1478.2 417.5 1476.0 420.2 1473.8 422.9 1471.6 425.5 1469.3 428.2 1466.3 431.0 1461.9 433.8 1457.5 436.4 1453.0 439.1 1448.5 441.7 1444.0 444.3 1439.5 447.0 1434.9 449.8 1430.3 452.7 1425.7 455.8 1421.1 459.0 1416.3 462.5 1411.3 466.2 1406.3 470.1 1401.2 474.1 1396.1 478.2 1391.1 482.4 1386.2 486.5 1381.5 490.5 1377.0 494.3 1372.9 498.0 1369.1 501.5 1365.6 504.8 1362.3 508.1 1359.2 511.3 1356.2 514.4 1353.3 517.5 1350.5 520.5 1347.5 523.6 1344.5 526.8 1341.4 530.0 1338.2 533.2 1335.1 536.5 1332.1 539.7 1329.1 542.9 1326.1 546.2 1323.0 549.5 1319.9 552.8 1316.8 556.1 1313.5 559.5 1310.2 563.0 1306.7 566.6 1303.1 570.3 1299.3 574.2 1295.6 578.1 1291.7 582.0 1290.5 585.9 1290.0 589.7 1289.5 593.3 1288.9 596.8 1288.2 600.0 1287.4 603.0 1286.5 605.8 1285.4 608.4 1284.4 610.9 1283.2 613.2 1282.0 615.6 1280.7 617.9 1279.4 620.2 1278.0 622.6 1276.6 625.0 1275.2 627.5 1273.7 630.1 1272.2 632.7 1270.6 635.2 1269.0 637.8 1267.3 640.4 1265.6 642.9 1263.8 645.3 1261.9 647.7 1260.0 650.0 1258.9 652.2 1257.8 654.3 1256.5 656.4 1255.2 658.4 1253.7 660.3 1252.3 662.2 1250.8 664.2 1249.2 666.1 1247.7 668.0 1246.1 670.0 1244.6 672.0 1243.0 674.1 1241.4 676.2 1239.7 678.2 1238.0 680.3 1236.3 682.4 1234.6 684.4 1232.8 686.3 1231.1 688.2 1229.3 690.0 1227.5 691.7 1225.7 693.3 1223.9 694.9 1222.1 696.4 1220.3 697.8 1218.4 699.2 1216.5 700.7 1214.6 702.1 1212.6 703.5 1210.6 705.0 1208.6 706.5 1206.4 708.0 1204.2 709.5 1202.0 711.0 1199.7 712.5 1197.4 714.0 1195.2 715.5 1193.1 717.0 1191.0 718.5 1189.0 720.0 1186.4 721.6 1183.8 723.2 1181.2 725.0 1178.5 726.7 1176.0 728.4 1173.6 730.1 1171.4 731.6 1169.4 733.0 1167.8 734.1 1166.4 735.0 M1542.0 345.0 1541.3 346.2 1540.4 347.8 1539.3 349.5 1538.2 351.5 1536.9 353.8 1535.5 356.1 1534.0 358.7 1532.4 361.4 1530.7 364.1 1529.0 367.0 1527.2 370.1 1525.2 373.4 1523.1 377.0 1520.8 380.8 1518.6 384.6 1516.2 388.5 1513.9 392.3 1511.5 396.1 1509.2 399.7 1507.0 403.0 1504.8 406.1 1502.6 409.1 1500.5 412.0 1498.3 414.8 1496.2 417.5 1494.0 420.2 1491.8 422.9 1489.6 425.5 1487.3 428.2 1484.2 431.0 1479.7 433.8 1475.1 436.4 1470.5 439.1 1465.9 441.7 1461.2 444.3 1456.6 447.0 1451.8 449.8 1447.1 452.7 1442.3 455.8 1437.4 459.0 1432.5 462.5 1427.3 466.2 1422.1 470.1 1416.7 474.1 1411.4 478.2 1406.2 482.4 1401.0 486.5 1396.1 490.5 1391.5 494.3 1387.1 498.0 1383.1 501.5 1379.4 504.8 1375.9 508.1 1372.6 511.3 1369.5 514.4 1366.5 517.5 1363.4 520.5 1360.3 523.6 1357.1 526.8 1353.8 530.0 1350.4 533.2 1347.2 536.5 1343.9 539.7 1340.7 542.9 1337.5 546.2 1334.3 549.5 1331.0 552.8 1327.7 556.1 1324.2 559.5 1320.6 563.0 1316.9 566.6 1313.1 570.3 1309.2 574.2 1305.1 578.1 1301.1 582.0 1299.8 585.9 1299.4 589.7 1298.9 593.3 1298.4 596.8 1297.7 600.0 1296.9 603.0 1296.0 605.8 1295.0 608.4 1293.9 610.9 1292.8 613.2 1291.6 615.6 1290.4 617.9 1289.1 620.2 1287.7 622.6 1286.3 625.0 1284.9 627.5 1283.5 630.1 1282.0 632.7 1280.4 635.2 1278.8 637.8 1277.2 640.4 1275.5 642.9 1273.7 645.3 1271.9 647.7 1270.0 650.0 1269.0 652.2 1268.0 654.3 1266.8 656.4 1265.5 658.4 1264.2 660.3 1262.8 662.2 1261.4 664.2 1259.9 666.1 1258.5 668.0 1257.0 670.0 1255.5 672.0 1254.0 674.1 1252.5 676.2 1250.9 678.2 1249.3 680.3 1247.7 682.4 1246.0 684.4 1244.4 686.3 1242.7 688.2 1241.0 690.0 1239.3 691.7 1237.6 693.3 1235.8 694.9 1234.1 696.4 1232.3 697.8 1230.5 699.2 1228.7 700.7 1226.8 702.1 1224.9 703.5 1223.0 705.0 1221.0 706.5 1218.9 708.0 1216.8 709.5 1214.6 711.0 1212.4 712.5 1210.2 714.0 1208.0 715.5 1205.9 717.0 1203.9 718.5 1202.0 720.0 1199.5 721.6 1196.8 723.2 1194.2 725.0 1191.6 726.7 1189.1 728.4 1186.7 730.1 1184.5 731.6 1182.6 733.0 1180.9 734.1 1179.6 735.0 M1560.0 345.0 1559.3 346.2 1558.4 347.8 1557.3 349.5 1556.2 351.5 1554.9 353.8 1553.5 356.1 1552.0 358.7 1550.4 361.4 1548.7 364.1 1547.0 367.0 1545.2 370.1 1543.2 373.4 1541.1 377.0 1538.8 380.8 1536.6 384.6 1534.2 388.5 1531.9 392.3 1529.5 396.1 1527.2 399.7 1525.0 403.0 1522.8 406.1 1520.6 409.1 1518.5 412.0 1516.3 414.8 1514.2 417.5 1512.0 420.2 1509.8 422.9 1507.6 425.5 1505.3 428.2 1502.2 431.0 1497.5 433.8 1492.8 436.4 1488.0 439.1 1483.2 441.7 1478.4 444.3 1473.6 447.0 1468.7 449.8 1463.8 452.7 1458.8 455.8 1453.8 459.0 1448.7 462.5 1443.3 466.2 1437.8 470.1 1432.3 474.1 1426.7 478.2 1421.2 482.4 1415.9 486.5 1410.8 490.5 1405.9 494.3 1401.3 498.0 1397.1 501.5 1393.2 504.8 1389.6 508.1 1386.1 511.3 1382.8 514.4 1379.6 517.5 1376.4 520.5 1373.1 523.6 1369.7 526.8 1366.2 530.0 1362.7 533.2 1359.2 536.5 1355.8 539.7 1352.4 542.9 1349.0 546.2 1345.6 549.5 1342.1 552.8 1338.5 556.1 1334.9 559.5 1331.1 563.0 1327.2 566.6 1323.1 570.3 1319.0 574.2 1314.7 578.1 1310.4 582.0 1309.1 585.9 1308.8 589.7 1308.3 593.3 1307.8 596.8 1307.2 600.0 1306.4 603.0 1305.5 605.8 1304.6 608.4 1303.5 610.9 1302.4 613.2 1301.3 615.6 1300.0 617.9 1298.7 620.2 1297.4 622.6 1296.1 625.0 1294.7 627.5 1293.3 630.1 1291.8 632.7 1290.3 635.2 1288.7 637.8 1287.1 640.4 1285.4 642.9 1283.7 645.3 1281.9 647.7 1280.0 650.0 1279.1 652.2 1278.1 654.3 1277.1 656.4 1275.9 658.4 1274.6 660.3 1273.3 662.2 1272.0 664.2 1270.6 666.1 1269.2 668.0 1267.9 670.0 1266.5 672.0 1265.1 674.1 1263.6 676.2 1262.1 678.2 1260.6 680.3 1259.1 682.4 1257.5 684.4 1255.9 686.3 1254.3 688.2 1252.7 690.0 1251.1 691.7 1249.4 693.3 1247.8 694.9 1246.1 696.4 1244.4 697.8 1242.6 699.2 1240.9 700.7 1239.1 702.1 1237.2 703.5 1235.4 705.0 1233.4 706.5 1231.4 708.0 1229.3 709.5 1227.2 711.0 1225.1 712.5 1222.9 714.0 1220.8 715.5 1218.8 717.0 1216.8 718.5 1215.0 720.0 1212.5 721.6 1209.9 723.2 1207.3 725.0 1204.7 726.7 1202.2 728.4 1199.8 730.1 1197.7 731.6 1195.8 733.0 1194.1 734.1 1192.8 735.0 M1578.0 345.0 1577.3 346.2 1576.4 347.8 1575.3 349.5 1574.2 351.5 1572.9 353.8 1571.5 356.1 1570.0 358.7 1568.4 361.4 1566.7 364.1 1565.0 367.0 1563.2 370.1 1561.2 373.4 1559.1 377.0 1556.8 380.8 1554.6 384.6 1552.2 388.5 1549.9 392.3 1547.5 396.1 1545.2 399.7 1543.0 403.0 1540.8 406.1 1538.6 409.1 1536.5 412.0 1534.3 414.8 1532.2 417.5 1530.0 420.2 1527.8 422.9 1525.6 425.5 1523.3 428.2 1520.1 431.0 1515.3 433.8 1510.4 436.4 1505.5 439.1 1500.6 441.7 1495.7 444.3 1490.7 447.0 1485.6 449.8 1480.6 452.7 1475.4 455.8 1470.2 459.0 1464.9 462.5 1459.3 466.2 1453.6 470.1 1447.8 474.1 1442.0 478.2 1436.3 482.4 1430.8 486.5 1425.4 490.5 1420.3 494.3 1415.6 498.0 1411.2 501.5 1407.1 504.8 1403.2 508.1 1399.6 511.3 1396.1 514.4 1392.7 517.5 1389.4 520.5 1385.9 523.6 1382.3 526.8 1378.6 530.0 1374.9 533.2 1371.2 536.5 1367.6 539.7 1364.0 542.9 1360.5 546.2 1356.8 549.5 1353.2 552.8 1349.4 556.1 1345.6 559.5 1341.6 563.0 1337.5 566.6 1333.2 570.3 1328.8 574.2 1324.3 578.1 1319.8 582.0 1318.5 585.9 1318.1 589.7 1317.8 593.3 1317.3 596.8 1316.6 600.0 1315.9 603.0 1315.1 605.8 1314.1 608.4 1313.1 610.9 1312.0 613.2 1310.9 615.6 1309.7 617.9 1308.4 620.2 1307.1 622.6 1305.8 625.0 1304.5 627.5 1303.1 630.1 1301.6 632.7 1300.1 635.2 1298.6 637.8 1297.0 640.4 1295.3 642.9 1293.6 645.3 1291.8 647.7 1290.0 650.0 1289.2 652.2 1288.3 654.3 1287.3 656.4 1286.2 658.4 1285.1 660.3 1283.8 662.2 1282.6 664.2 1281.3 666.1 1280.0 668.0 1278.7 670.0 1277.4 672.0 1276.1 674.1 1274.7 676.2 1273.3 678.2 1271.9 680.3 1270.5 682.4 1269.0 684.4 1267.5 686.3 1266.0 688.2 1264.4 690.0 1262.9 691.7 1261.3 693.3 1259.7 694.9 1258.1 696.4 1256.4 697.8 1254.7 699.2 1253.0 700.7 1251.3 702.1 1249.5 703.5 1247.7 705.0 1245.8 706.5 1243.9 708.0 1241.9 709.5 1239.8 711.0 1237.7 712.5 1235.7 714.0 1233.6 715.5 1231.7 717.0 1229.8 718.5 1228.0 720.0 1225.5 721.6 1222.9 723.2 1220.3 725.0 1217.8 726.7 1215.3 728.4 1213.0 730.1 1210.8 731.6 1208.9 733.0 1207.3 734.1 1206.0 735.0 M1596.0 345.0 1595.3 346.2 1594.4 347.8 1593.3 349.5 1592.2 351.5 1590.9 353.8 1589.5 356.1 1588.0 358.7 1586.4 361.4 1584.7 364.1 1583.0 367.0 1581.2 370.1 1579.2 373.4 1577.1 377.0 1574.8 380.8 1572.6 384.6 1570.2 388.5 1567.9 392.3 1565.5 396.1 1563.2 399.7 1561.0 403.0 1558.8 406.1 1556.6 409.1 1554.5 412.0 1552.3 414.8 1550.2 417.5 1548.0 420.2 1545.8 422.9 1543.6 425.5 1541.3 428.2 1538.1 431.0 1533.1 433.8 1528.0 436.4 1523.0 439.1 1518.0 441.7 1512.9 444.3 1507.7 447.0 1502.5 449.8 1497.3 452.7 1492.0 455.8 1486.6 459.0 1481.1 462.5 1475.3 466.2 1469.4 470.1 1463.4 474.1 1457.4 478.2 1451.4 482.4 1445.6 486.5 1440.0 490.5 1434.7 494.3 1429.8 498.0 1425.2 501.5 1420.9 504.8 1416.9 508.1 1413.1 511.3 1409.4 514.4 1405.9 517.5 1402.3 520.5 1398.6 523.6 1394.9 526.8 1391.0 530.0 1387.1 533.2 1383.3 536.5 1379.5 539.7 1375.7 542.9 1371.9 546.2 1368.1 549.5 1364.2 552.8 1360.3 556.1 1356.2 559.5 1352.1 563.0 1347.7 566.6 1343.2 570.3 1338.6 574.2 1333.9 578.1 1329.2 582.0 1327.8 585.9 1327.5 589.7 1327.2 593.3 1326.7 596.8 1326.1 600.0 1325.4 603.0 1324.6 605.8 1323.7 608.4 1322.7 610.9 1321.7 613.2 1320.5 615.6 1319.4 617.9 1318.1 620.2 1316.9 622.6 1315.6 625.0 1314.2 627.5 1312.9 630.1 1311.4 632.7 1310.0 635.2 1308.5 637.8 1306.9 640.4 1305.3 642.9 1303.6 645.3 1301.8 647.7 1300.0 650.0 1299.3 652.2 1298.5 654.3 1297.6 656.4 1296.6 658.4 1295.5 660.3 1294.4 662.2 1293.2 664.2 1292.0 666.1 1290.8 668.0 1289.6 670.0 1288.4 672.0 1287.1 674.1 1285.8 676.2 1284.5 678.2 1283.2 680.3 1281.8 682.4 1280.5 684.4 1279.0 686.3 1277.6 688.2 1276.1 690.0 1274.7 691.7 1273.1 693.3 1271.6 694.9 1270.0 696.4 1268.5 697.8 1266.8 699.2 1265.2 700.7 1263.5 702.1 1261.8 703.5 1260.1 705.0 1258.3 706.5 1256.4 708.0 1254.4 709.5 1252.4 711.0 1250.4 712.5 1248.4 714.0 1246.4 715.5 1244.5 717.0 1242.7 718.5 1241.0 720.0 1238.5 721.6 1236.0 723.2 1233.4 725.0 1230.9 726.7 1228.4 728.4 1226.1 730.1 1224.0 731.6 1222.1 733.0 1220.5 734.1 1219.2 735.0 M1614.0 345.0 1613.3 346.2 1612.4 347.8 1611.3 349.5 1610.2 351.5 1608.9 353.8 1607.5 356.1 1606.0 358.7 1604.4 361.4 1602.7 364.1 1601.0 367.0 1599.2 370.1 1597.2 373.4 1595.1 377.0 1592.8 380.8 1590.6 384.6 1588.2 388.5 1585.9 392.3 1583.5 396.1 1581.2 399.7 1579.0 403.0 1576.8 406.1 1574.6 409.1 1572.5 412.0 1570.3 414.8 1568.2 417.5 1566.0 420.2 1563.8 422.9 1561.6 425.5 1559.3 428.2 1556.0 431.0 1550.8 433.8 1545.7 436.4 1540.5 439.1 1535.3 441.7 1530.1 444.3 1524.8 447.0 1519.4 449.8 1514.0 452.7 1508.6 455.8 1503.0 459.0 1497.3 462.5 1491.3 466.2 1485.1 470.1 1478.9 474.1 1472.7 478.2 1466.5 482.4 1460.5 486.5 1454.7 490.5 1449.2 494.3 1444.0 498.0 1439.2 501.5 1434.8 504.8 1430.6 508.1 1426.6 511.3 1422.8 514.4 1419.0 517.5 1415.3 520.5 1411.4 523.6 1407.5 526.8 1403.4 530.0 1399.3 533.2 1395.3 536.5 1391.3 539.7 1387.4 542.9 1383.4 546.2 1379.4 549.5 1375.3 552.8 1371.2 556.1 1366.9 559.5 1362.5 563.0 1358.0 566.6 1353.3 570.3 1348.4 574.2 1343.5 578.1 1338.5 582.0 1337.1 585.9 1336.9 589.7 1336.6 593.3 1336.1 596.8 1335.6 600.0 1334.9 603.0 1334.1 605.8 1333.3 608.4 1332.3 610.9 1331.3 613.2 1330.2 615.6 1329.0 617.9 1327.8 620.2 1326.6 622.6 1325.3 625.0 1324.0 627.5 1322.7 630.1 1321.3 632.7 1319.8 635.2 1318.3 637.8 1316.8 640.4 1315.2 642.9 1313.5 645.3 1311.8 647.7 1310.0 650.0 1309.4 652.2 1308.7 654.3 1307.9 656.4 1307.0 658.4 1306.0 660.3 1304.9 662.2 1303.8 664.2 1302.7 666.1 1301.5 668.0 1300.4 670.0 1299.3 672.0 1298.2 674.1 1297.0 676.2 1295.8 678.2 1294.5 680.3 1293.2 682.4 1291.9 684.4 1290.6 686.3 1289.2 688.2 1287.9 690.0 1286.4 691.7 1285.0 693.3 1283.5 694.9 1282.0 696.4 1280.5 697.8 1279.0 699.2 1277.4 700.7 1275.8 702.1 1274.1 703.5 1272.4 705.0 1270.7 706.5 1268.9 708.0 1267.0 709.5 1265.0 711.0 1263.1 712.5 1261.2 714.0 1259.3 715.5 1257.4 717.0 1255.7 718.5 1254.0 720.0 1251.5 721.6 1249.0 723.2 1246.5 725.0 1244.0 726.7 1241.5 728.4 1239.2 730.1 1237.1 731.6 1235.2 733.0 1233.6 734.1 1232.4 735.0 M1632.0 345.0 1631.3 346.2 1630.4 347.8 1629.3 349.5 1628.2 351.5 1626.9 353.8 1625.5 356.1 1624.0 358.7 1622.4 361.4 1620.7 364.1 1619.0 367.0 1617.2 370.1 1615.2 373.4 1613.1 377.0 1610.8 380.8 1608.6 384.6 1606.2 388.5 1603.9 392.3 1601.5 396.1 1599.2 399.7 1597.0 403.0 1594.8 406.1 1592.6 409.1 1590.5 412.0 1588.3 414.8 1586.2 417.5 1584.0 420.2 1581.8 422.9 1579.6 425.5 1577.3 428.2 1573.9 431.0 1568.6 433.8 1563.3 436.4 1558.0 439.1 1552.7 441.7 1547.3 444.3 1541.8 447.0 1536.3 449.8 1530.8 452.7 1525.1 455.8 1519.4 459.0 1513.5 462.5 1507.3 466.2 1500.9 470.1 1494.5 474.1 1488.0 478.2 1481.6 482.4 1475.4 486.5 1469.3 490.5 1463.6 494.3 1458.2 498.0 1453.3 501.5 1448.6 504.8 1444.2 508.1 1440.1 511.3 1436.1 514.4 1432.2 517.5 1428.3 520.5 1424.2 523.6 1420.1 526.8 1415.8 530.0 1411.6 533.2 1407.3 536.5 1403.2 539.7 1399.0 542.9 1394.8 546.2 1390.6 549.5 1386.4 552.8 1382.0 556.1 1377.6 559.5 1373.0 563.0 1368.3 566.6 1363.3 570.3 1358.2 574.2 1353.1 578.1 1347.9 582.0 1346.4 585.9 1346.3 589.7 1346.0 593.3 1345.6 596.8 1345.1 600.0 1344.4 603.0 1343.7 605.8 1342.8 608.4 1341.9 610.9 1340.9 613.2 1339.8 615.6 1338.7 617.9 1337.5 620.2 1336.3 622.6 1335.0 625.0 1333.8 627.5 1332.4 630.1 1331.1 632.7 1329.7 635.2 1328.2 637.8 1326.7 640.4 1325.1 642.9 1323.5 645.3 1321.8 647.7 1320.0 650.0 1319.5 652.2 1318.9 654.3 1318.1 656.4 1317.3 658.4 1316.4 660.3 1315.4 662.2 1314.4 664.2 1313.4 666.1 1312.3 668.0 1311.3 670.0 1310.2 672.0 1309.2 674.1 1308.1 676.2 1307.0 678.2 1305.8 680.3 1304.6 682.4 1303.4 684.4 1302.2 686.3 1300.9 688.2 1299.6 690.0 1298.2 691.7 1296.9 693.3 1295.5 694.9 1294.0 696.4 1292.6 697.8 1291.1 699.2 1289.5 700.7 1288.0 702.1 1286.4 703.5 1284.8 705.0 1283.1 706.5 1281.3 708.0 1279.5 709.5 1277.6 711.0 1275.8 712.5 1273.9 714.0 1272.1 715.5 1270.3 717.0 1268.6 718.5 1267.0 720.0 1264.6 721.6 1262.0 723.2 1259.5 725.0 1257.0 726.7 1254.6 728.4 1252.4 730.1 1250.3 731.6 1248.4 733.0 1246.8 734.1 1245.6 735.0" fill="none" stroke="#a6abc6" stroke-width="1" stroke-linejoin="round"/>
  <rect x="40" y="154" width="200" height="110" fill="#fff" fill-opacity="0.5"/>
  <rect x="1040" y="146" width="112" height="10" fill="#fff"/>
  <rect x="40" y="154.0" width="1112" height="88.6" fill="#fff"/><rect x="40" y="251.3" width="1112" height="88.6" fill="#fff"/><rect x="40" y="348.6" width="1112" height="88.6" fill="#fff"/><rect x="40" y="445.9" width="1112" height="88.6" fill="#fff"/><rect x="40" y="543.2" width="1112" height="88.6" fill="#fff"/>
  <path d="M1103 624.5 Q1110 629 1117 624.5" fill="none" stroke="#a99fe3" stroke-width="3" stroke-linecap="round"/>
</svg>
<div id="title" class="title">韓國美食主題影視作品</div><div id="tl" class="tl">TOP 10</div>
<div id="hdrL" class="hdr" style="left:480px;top:114px">網路聲量</div>
<div id="hdrR" class="hdr" style="left:1038px;top:114px">網路聲量</div>
<div id="n1" class="num" style="left:64px;top:174.0px">1.</div><div id="m1" class="name" style="left:108.5px;top:173.0px">黑白大廚</div><div id="v1" class="val" style="right:709px;top:171.5px">306,495</div><div id="n2" class="num" style="left:64px;top:271.3px">2.</div><div id="m2" class="name" style="left:108.5px;top:270.3px">暴君的廚師</div><div id="v2" class="val" style="right:709px;top:268.8px">13,292</div><div id="n3" class="num" style="left:64px;top:368.6px">3.</div><div id="m3" class="name" style="left:108.5px;top:367.6px">瑞鎮家</div><div id="v3" class="val" style="right:709px;top:366.1px">9,604</div><div id="n4" class="num" style="left:64px;top:465.9px">4.</div><div id="m4" class="name" style="left:108.5px;top:464.9px">拜託了冰箱</div><div id="v4" class="val" style="right:709px;top:463.4px">4,662</div><div id="n5" class="num" style="left:64px;top:563.2px">5.</div><div id="m5" class="name" style="left:108.5px;top:562.2px">白Packer</div><div id="v5" class="val" style="right:709px;top:560.7px">1,911</div><div id="n6" class="num" style="left:621px;top:172.5px">6.</div><div id="m6" class="name" style="left:666px;top:172.0px">你的味道</div><div id="v6" class="val" style="right:150px;top:170.0px">1,478</div><div id="n7" class="num" style="left:621px;top:269.8px">7.</div><div id="m7" class="name" style="left:666px;top:269.3px">以吃為先的兄弟們</div><div id="v7" class="val" style="right:150px;top:267.3px">1,363</div><div id="n8" class="num" style="left:621px;top:367.1px">8.</div><div id="m8" class="name" style="left:666px;top:366.6px">豆豆飯飯</div><div id="v8" class="val" style="right:150px;top:364.6px">1,338</div><div id="n9" class="num" style="left:621px;top:464.4px">9.</div><div id="m9" class="name" style="left:666px;top:463.9px">生意天才白社長</div><div id="v9" class="val" style="right:150px;top:461.9px">1,224</div><div id="n10" class="num" style="left:613.5px;top:561.7px">10.</div><div id="m10" class="name" style="left:682px;top:561.2px">姐姐的產地直送</div><div id="v10" class="val" style="right:150px;top:559.2px">1,142</div>
<div id="f1" class="foot" style="left:312px;top:664px;letter-spacing:0.6px">· 資料來源：《KEYPO大數據關鍵引擎》輿情分析軟體　 · 分析期間：2022/01/01~2025/09/09</div>
<div id="f2" class="foot" style="left:397px;top:686px;letter-spacing:-0.5px">· Copyright © BIG DATA Co., Ltd. Proprietary and Confidential. All rights reserved.</div>
<svg class="abs" style="left:1160px;top:582px" width="96" height="92" viewBox="1160 582 96 92">
  <circle cx="1206.5" cy="627.8" r="37.5" fill="#b01e24"/>
  <path d="M1178.9 638 L1183.1 631.8 L1191.5 652.6 L1199.9 628.3 L1204.1 633.7 L1208.4 623 L1214.8 634.1 L1219.3 626.4 L1223.6 633.2 L1240 603" fill="none" stroke="#fff" stroke-width="3.5" stroke-linejoin="miter"/>
</svg>
<div id="logo" class="abs" style="left:1150.5px;top:674.5px;font-size:22.6px;letter-spacing:-0.5px;line-height:28px;transform:scaleY(0.87);transform-origin:0 0;color:#2a2a2a;-webkit-text-stroke:0.3px #2a2a2a;white-space:nowrap">網路溫度計</div>
</body></html>
